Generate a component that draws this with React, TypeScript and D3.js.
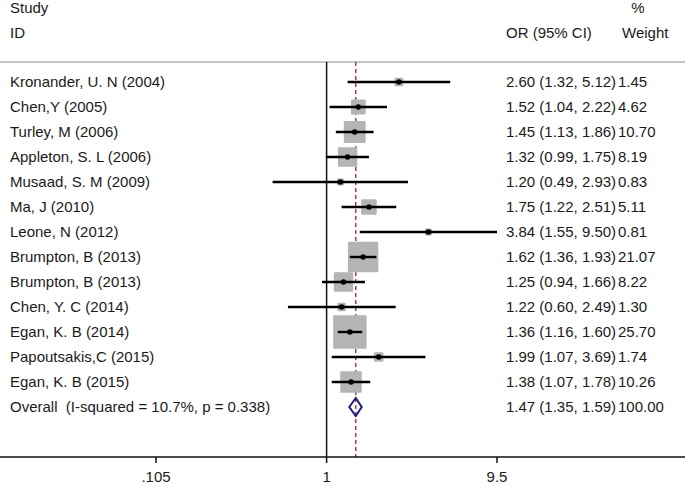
import React from "react";
import * as d3 from "d3";

const studies = [
  "Kronander, U. N (2004)",
  "Chen,Y (2005)",
  "Turley, M (2006)",
  "Appleton, S. L (2006)",
  "Musaad, S. M (2009)",
  "Ma, J (2010)",
  "Leone, N (2012)",
  "Brumpton, B (2013)",
  "Brumpton, B (2013)",
  "Chen, Y. C (2014)",
  "Egan, K. B (2014)",
  "Papoutsakis,C (2015)",
  "Egan, K. B (2015)",
];
const orValues = [2.6, 1.52, 1.45, 1.32, 1.2, 1.75, 3.84, 1.62, 1.25, 1.22, 1.36, 1.99, 1.38];
const ciLow = [1.32, 1.04, 1.13, 0.99, 0.49, 1.22, 1.55, 1.36, 0.94, 0.6, 1.16, 1.07, 1.07];
const ciHigh = [5.12, 2.22, 1.86, 1.75, 2.93, 2.51, 9.5, 1.93, 1.66, 2.49, 1.6, 3.69, 1.78];
const weights = [1.45, 4.62, 10.7, 8.19, 0.83, 5.11, 0.81, 21.07, 8.22, 1.3, 25.7, 1.74, 10.26];

const overallLabel = "Overall  (I-squared = 10.7%, p = 0.338)";
const overallOR = 1.47;
const overallLow = 1.35;
const overallHigh = 1.59;
const overallWeight = 100.0;

const tickValues = [0.105, 1, 9.5];
const tickLabels = [".105", "1", "9.5"];

const W = 685;
const H = 485;

export default function App() {
  const x = d3.scaleLog().domain([0.105, 9.5]).range([156, 497]);
  const rowY = d3
    .scaleLinear()
    .domain([0, 13])
    .range([82, 82 + 25 * 13]);
  const axisY = 457;
  const topY = 62;
  const font = "'Liberation Sans', Arial, sans-serif";
  const fs = 15;
  const txt = "#1a1a1a";
  const fmt = d3.format(".2f");

  const oy = rowY(13);
  const diamond = [
    [x(overallLow), oy],
    [x(overallOR), oy - 9],
    [x(overallHigh), oy],
    [x(overallOR), oy + 9],
  ];

  return (
    <svg
      width={W}
      height={H}
      style={{ position: "absolute", left: 0, top: 0, background: "#fff", whiteSpace: "pre" }}
      fontFamily={font}
      fontSize={fs}
    >
      {/* headers */}
      <text x={10} y={8} dy="0.36em" fill={txt}>Study</text>
      <text x={10} y={33} dy="0.36em" fill={txt}>ID</text>
      <text x={506} y={33} dy="0.36em" fill={txt}>OR (95% CI)</text>
      <text x={638} y={8} dy="0.36em" textAnchor="middle" fill={txt}>%</text>
      <text x={622} y={33} dy="0.36em" fill={txt}>Weight</text>
      <line x1={0} x2={W} y1={topY} y2={topY} stroke="#b0b0b0" strokeWidth={1.5} />

      {/* null line */}
      <line x1={x(1)} x2={x(1)} y1={topY} y2={axisY} stroke="#111" strokeWidth={1.5} />
      {/* overall dashed line */}
      <line
        x1={x(overallOR)}
        x2={x(overallOR)}
        y1={topY}
        y2={axisY}
        stroke="#a8404a"
        strokeWidth={1.5}
        strokeDasharray="4,3"
      />

      {studies.map((s, i) => {
        const y = rowY(i);
        const side = 6.4 * Math.sqrt(weights[i]) + 1;
        return (
          <g key={i}>
            <text x={10} y={y} dy="0.36em" fill={txt}>{s}</text>
            <rect
              x={x(orValues[i]) - side / 2}
              y={y - side / 2}
              width={side}
              height={side}
              rx={1}
              fill="#b4b4b4"
            />
            <line x1={x(ciLow[i])} x2={x(ciHigh[i])} y1={y} y2={y} stroke="#000" strokeWidth={2.4} />
            <circle cx={x(orValues[i])} cy={y} r={2.8} fill="#000" />
            <text x={506} y={y} dy="0.36em" fill={txt}>
              {`${fmt(orValues[i])} (${fmt(ciLow[i])}, ${fmt(ciHigh[i])})`}
            </text>
            <text x={618} y={y} dy="0.36em" fill={txt}>{fmt(weights[i])}</text>
          </g>
        );
      })}

      {/* overall */}
      <text x={10} y={oy} dy="0.36em" fill={txt} xmlSpace="preserve">{overallLabel}</text>
      <polygon
        points={diamond.map((p) => p.join(",")).join(" ")}
        fill="none"
        stroke="#1c1c80"
        strokeWidth={2}
      />
      <text x={506} y={oy} dy="0.36em" fill={txt}>
        {`${fmt(overallOR)} (${fmt(overallLow)}, ${fmt(overallHigh)})`}
      </text>
      <text x={618} y={oy} dy="0.36em" fill={txt}>{fmt(overallWeight)}</text>

      {/* axis */}
      <line x1={0} x2={W} y1={axisY} y2={axisY} stroke="#111" strokeWidth={1.5} />
      {tickValues.map((t, i) => (
        <g key={t}>
          <line x1={x(t)} x2={x(t)} y1={axisY} y2={axisY + 6} stroke="#111" strokeWidth={1.5} />
          <text x={x(t)} y={477} dy="0.36em" textAnchor="middle" fill={txt}>
            {tickLabels[i]}
          </text>
        </g>
      ))}
    </svg>
  );
}
